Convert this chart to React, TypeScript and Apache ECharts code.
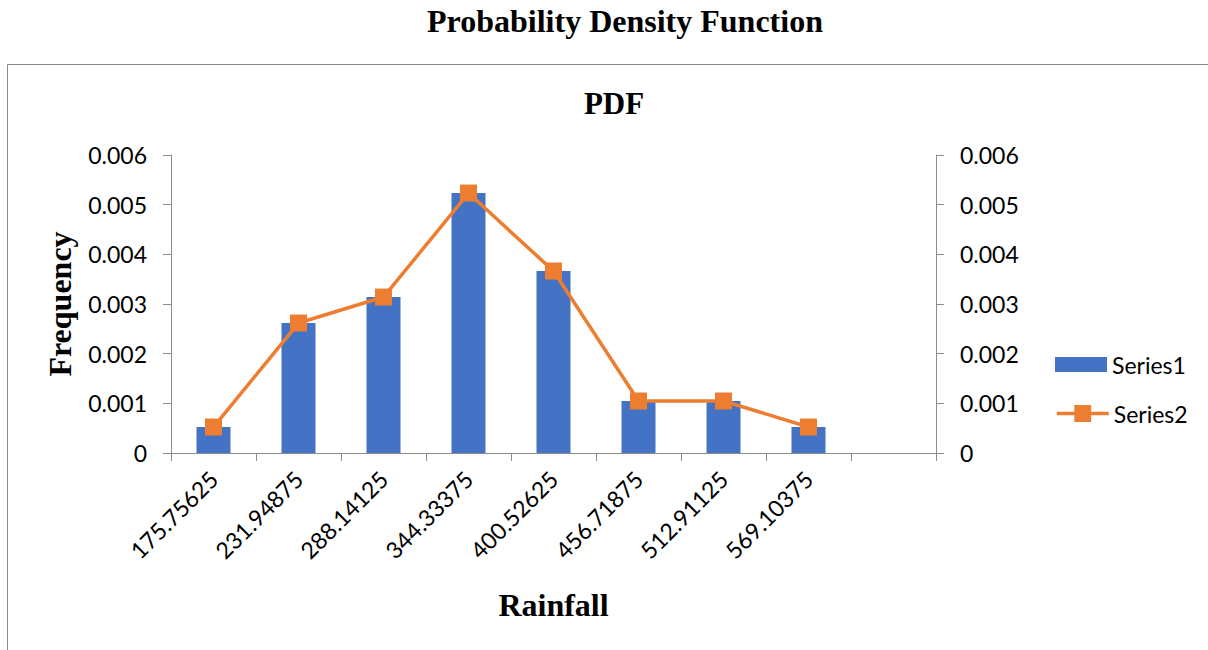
import React, { useEffect, useRef } from "react";
import * as echarts from "echarts";

const categories = ["175.75625", "231.94875", "288.14125", "344.33375", "400.52625", "456.71875", "512.91125", "569.10375", ""];
const series1 = [0.000523, 0.002617, 0.00314, 0.005234, 0.003664, 0.001047, 0.001047, 0.000523, null];
const series2 = [0.000523, 0.002617, 0.00314, 0.005234, 0.003664, 0.001047, 0.001047, 0.000523, null];

export default function App() {
  const ref = useRef<HTMLDivElement>(null);
  useEffect(() => {
    const chart = echarts.init(ref.current!, null, { renderer: "svg" });
    const axisColor = "#8c8c8c";
    const labelFont = "Lato, 'Noto Sans', sans-serif";
    const serif = "'Liberation Serif', 'Times New Roman', serif";
    const yAxisCommon = {
      type: "value",
      min: 0,
      max: 0.006,
      interval: 0.001,
      axisLine: { show: true, lineStyle: { color: axisColor, width: 1 } },
      axisTick: { show: true, length: 8, lineStyle: { color: axisColor } },
      splitLine: { show: false },
      axisLabel: { color: "#000", fontSize: 23, fontFamily: labelFont, margin: 24 },
    };
    chart.setOption({
      animation: false,
      backgroundColor: "#fff",
      title: [
        {
          text: "Probability Density Function",
          left: 620,
          top: 0,
          textAlign: "center",
          textStyle: { fontFamily: serif, fontWeight: "bold", fontSize: 32, color: "#000" },
        },
        {
          text: "PDF",
          left: 609,
          top: 83,
          textAlign: "center",
          textStyle: { fontFamily: serif, fontWeight: "bold", fontSize: 31, color: "#000" },
        },
      ],
      graphic: [
        {
          type: "rect",
          shape: { x: 7.5, y: 64.5, width: 1230, height: 700 },
          style: { fill: "none", stroke: "#8a8a8a", lineWidth: 1 },
          silent: true,
          z: -1,
        },
      ],
      legend: [
        {
          orient: "vertical",
          left: 1050,
          top: 348,
          itemWidth: 52,
          itemHeight: 15,
          textStyle: { fontSize: 23, fontFamily: labelFont, color: "#000" },
          data: [{ name: "Series1", icon: "rect" }],
        },
        {
          orient: "vertical",
          left: 1050,
          top: 397,
          itemWidth: 52,
          itemHeight: 21,
          lineStyle: { width: 3.5 },
          textStyle: { fontSize: 23, fontFamily: labelFont, color: "#000" },
          data: [{ name: "Series2" }],
        },
      ],
      grid: { left: 171, right: 272, top: 155, bottom: 197, containLabel: false },
      xAxis: {
        type: "category",
        data: categories,
        boundaryGap: true,
        name: "Rainfall",
        nameLocation: "middle",
        nameGap: 136,
        nameTextStyle: { fontFamily: serif, fontWeight: "bold", fontSize: 32, color: "#000" },
        axisLine: { show: true, lineStyle: { color: axisColor, width: 1 } },
        axisTick: { show: true, length: 8, alignWithLabel: false, lineStyle: { color: axisColor } },
        axisLabel: { rotate: 45, color: "#000", fontSize: 23, fontFamily: labelFont, margin: 22, interval: 0 },
      },
      yAxis: [
        {
          ...yAxisCommon,
          position: "left",
          name: "Frequency",
          nameLocation: "middle",
          nameGap: 95,
          nameRotate: 90,
          nameTextStyle: { fontFamily: serif, fontWeight: "bold", fontSize: 32, color: "#000" },
        },
        {
          ...yAxisCommon,
          position: "right",
        },
      ],
      series: [
        {
          name: "Series1",
          type: "bar",
          data: series1,
          barWidth: 34,
          itemStyle: { color: "#4472C4" },
          yAxisIndex: 0,
        },
        {
          name: "Series2",
          type: "line",
          data: series2,
          yAxisIndex: 0,
          symbol: "rect",
          symbolSize: 17,
          lineStyle: { color: "#ED7D31", width: 3.5 },
          itemStyle: { color: "#ED7D31" },
        },
      ],
    });
    return () => chart.dispose();
  }, []);
  return <div ref={ref} style={{ width: 1208, height: 650, position: "absolute", left: 0, top: 0 }} />;
}
